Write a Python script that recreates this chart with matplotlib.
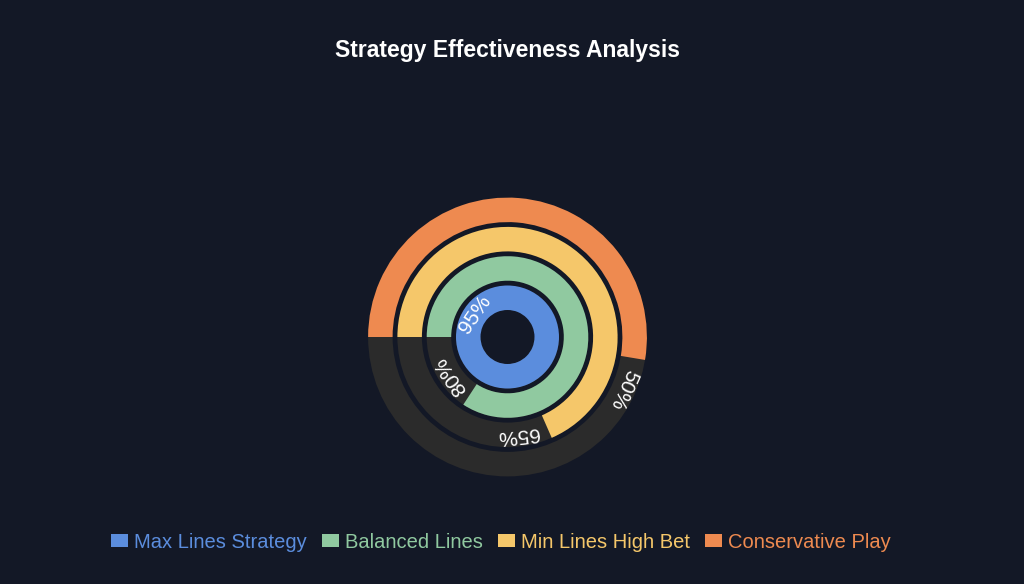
import numpy as np
import matplotlib
matplotlib.use('Agg')
import matplotlib.pyplot as plt
from matplotlib.patches import Patch

# данные
strategies = ["Max Lines Strategy", "Balanced Lines", "Min Lines High Bet", "Conservative Play"]
effectiveness = [95, 80, 65, 50]
colors = ["#5b8ddd", "#90c9a0", "#f5c76a", "#ee8a50"]

bg = "#131826"
track = "#2b2b2b"

plt.rcParams['font.family'] = ['Liberation Sans', 'DejaVu Sans']

W, H = 1024, 584
fig = plt.figure(figsize=(W / 100, H / 100), dpi=100, facecolor=bg)

# полярные оси: центр и радиус в пикселях
cx, cy, rmax = 507.5, 337, 141
ax = fig.add_axes([(cx - rmax) / W, (H - cy - rmax) / H, 2 * rmax / W, 2 * rmax / H],
                  projection='polar')
ax.set_facecolor('none')
ax.set_theta_zero_location('W')
ax.set_theta_direction(-1)
ax.set_ylim(0, rmax)
ax.axis('off')

vmax = max(effectiveness)
r0, pitch, band = 27, 29.3, 24.5

for i, (name, val, col) in enumerate(zip(strategies, effectiveness, colors)):
    r_in = r0 + pitch * i
    # серый фон в нижней половине
    ax.bar(np.pi, band, width=np.pi, bottom=r_in, align='edge', color=track, linewidth=0)
    span = val / vmax * 2 * np.pi
    ax.bar(0, band, width=span, bottom=r_in, align='edge', color=col, linewidth=0)

    # подпись сразу после конца дуги
    r_mid = r_in + band / 2
    off = np.deg2rad(6.4) + 19 / r_mid
    th = span + off
    phi = 180 - np.rad2deg(th)
    ax.text(th, r_mid, f"{val}%", rotation=phi - 90, rotation_mode='anchor',
            ha='center', va='center', color='white', fontsize=15)

fig.text(0.496, 1 - 50 / H, "Strategy Effectiveness Analysis", ha='center', va='center',
         color='white', fontsize=16.5, fontweight='bold')

handles = [Patch(facecolor=c, edgecolor='none') for c in colors]
fig.legend(handles, strategies, loc='center', bbox_to_anchor=(0.489, 1 - 542 / H), ncol=4,
           frameon=False, labelcolor=colors, fontsize=14.5, handlelength=0.85,
           handleheight=0.65, columnspacing=0.75, handletextpad=0.3)

fig.savefig("out.png", dpi=100, facecolor=bg)
